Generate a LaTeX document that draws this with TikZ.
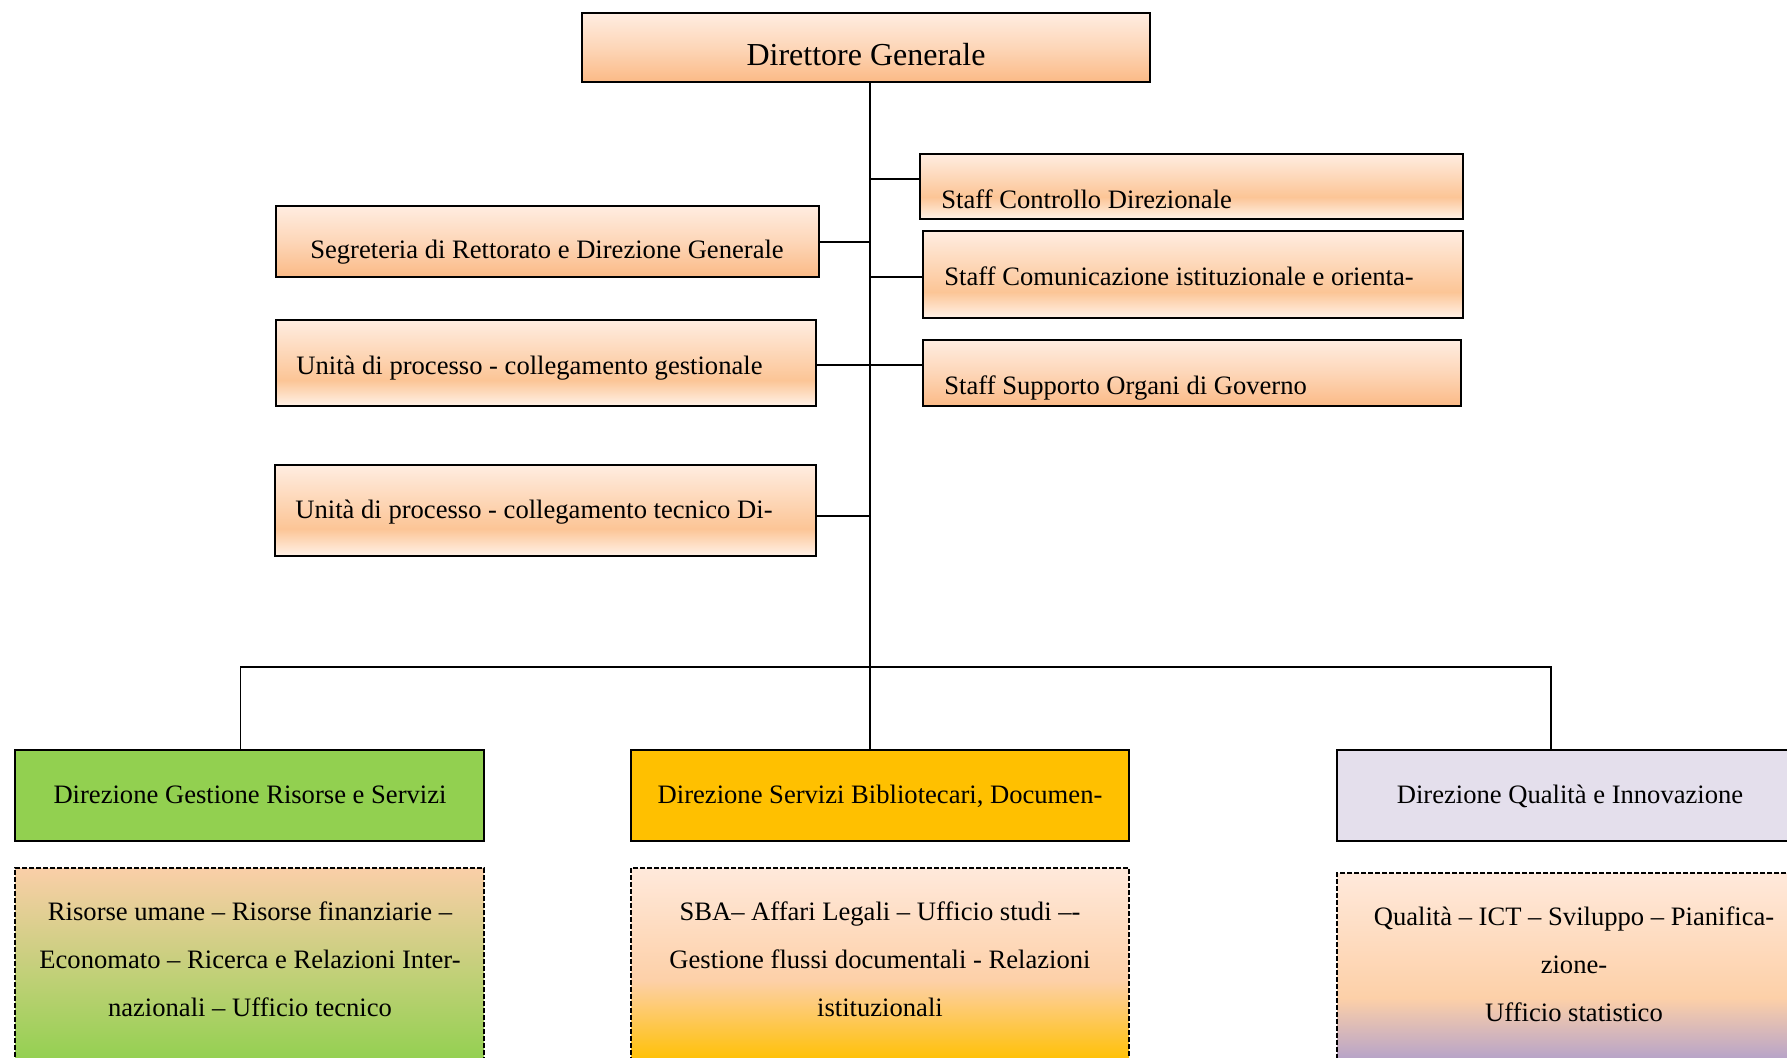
\documentclass[tikz,border=0pt]{standalone}
\usepackage{fontspec}
\setmainfont{Liberation Serif}
\definecolor{oD}{HTML}{FBBA86}
\definecolor{oM}{HTML}{FDD6B8}
\definecolor{oL}{HTML}{FFEDE1}
\definecolor{oB}{HTML}{FFF2E8}
\definecolor{oP}{HTML}{FCC596}
\definecolor{gHead}{HTML}{92D050}
\definecolor{yHead}{HTML}{FFC000}
\definecolor{lHead}{HTML}{E4DFEC}
\definecolor{pk}{HTML}{FACFA8}
\definecolor{pk2}{HTML}{FDD0A8}
\definecolor{pl}{HTML}{FFE9DB}
\definecolor{pu}{HTML}{B3A1CA}
\pgfdeclareverticalshading{orA}{100bp}{color(0bp)=(oD); color(25bp)=(oD); color(50bp)=(oM); color(75bp)=(oL); color(100bp)=(oL)}
\pgfdeclareverticalshading{orB}{100bp}{color(0bp)=(oB); color(25bp)=(oB); color(40bp)=(oP); color(75bp)=(oL); color(100bp)=(oL)}
\pgfdeclareverticalshading{orC}{100bp}{color(0bp)=(oB); color(25bp)=(oB); color(42bp)=(oP); color(75bp)=(oL); color(100bp)=(oL)}
\pgfdeclareverticalshading{grD}{100bp}{color(0bp)=(gHead); color(25bp)=(gHead); color(75bp)=(pk); color(100bp)=(pk)}
\pgfdeclareverticalshading{goD}{100bp}{color(0bp)=(yHead); color(25bp)=(yHead); color(46bp)=(pk2); color(75bp)=(pl); color(100bp)=(pl)}
\pgfdeclareverticalshading{puD}{100bp}{color(0bp)=(pu); color(25bp)=(pu); color(42bp)=(pk2); color(75bp)=(pl); color(100bp)=(pl)}
\begin{document}
\begin{tikzpicture}[x=0.5pt,y=-0.5pt,
  box/.style={draw=black, line width=0.7pt, rectangle, inner sep=0pt},
  dbox/.style={draw=black, line width=0.55pt, dash pattern=on 2.5pt off 1pt, rectangle, inner sep=0pt},
  txt/.style={font=\fontsize{13.3}{16}\selectfont, inner sep=0pt},
  bigtxt/.style={font=\fontsize{16}{19}\selectfont, inner sep=0pt},
  mtxt/.style={font=\fontsize{13.3}{24}\selectfont, inner sep=0pt, align=center},
  conn/.style={line width=0.65pt}]
\useasboundingbox (0,0) rectangle (1787,1058);
\clip (0,0) rectangle (1787,1058);
% top
\node[box, shade, shading=orA, minimum width=284pt, minimum height=34.5pt] (dg) at (866,47.5) {};
\node[bigtxt, anchor=base] (tdg) at (866,65.5) {Direttore Generale};
% staff right
\node[box, shade, shading=orC, minimum width=271.5pt, minimum height=32.5pt] (sc) at (1191.5,186.5) {};
\node[txt, anchor=base west] (tsc) at (941,208.5) {Staff Controllo Direzionale};
\node[box, shade, shading=orB, minimum width=270pt, minimum height=43.5pt] (com) at (1193,274.5) {};
\node[txt, anchor=base west] (tcom) at (944,285.5) {Staff Comunicazione istituzionale e orienta-};
\node[box, shade, shading=orA, minimum width=269pt, minimum height=33pt] (ss) at (1192,373) {};
\node[txt, anchor=base west] (tss) at (944,394.5) {Staff Supporto Organi di Governo};
% left
\node[box, shade, shading=orA, minimum width=271.5pt, minimum height=35.5pt] (seg) at (547.5,241.5) {};
\node[txt, anchor=base] (tseg) at (547,258.5) {Segreteria di Rettorato e Direzione Generale};
\node[box, shade, shading=orB, minimum width=270pt, minimum height=43pt] (ug) at (546,363) {};
\node[txt, anchor=base west] (tug) at (296,374.5) {Unità di processo - collegamento gestionale};
\node[box, shade, shading=orB, minimum width=270.5pt, minimum height=45.5pt] (ut) at (545.5,510.5) {};
\node[txt, anchor=base west] (tut) at (295,518.5) {Unità di processo - collegamento tecnico Di-};
% bottom headers
\node[box, fill=gHead, minimum width=234.5pt, minimum height=45.5pt] (gh) at (249.5,795.5) {};
\node[txt, anchor=base] (tgh) at (250,803) {Direzione Gestione Risorse e Servizi};
\node[box, fill=yHead, minimum width=249pt, minimum height=45.5pt] (oh) at (880,795.5) {};
\node[txt, anchor=base] (toh) at (880,803) {Direzione Servizi Bibliotecari, Documen-};
\node[box, fill=lHead, minimum width=233pt, minimum height=45.5pt] (lh) at (1570,795.5) {};
\node[txt, anchor=base] (tlh) at (1570,803) {Direzione Qualità e Innovazione};
% dashed boxes
\node[dbox, shade, shading=grD, minimum width=234.5pt, minimum height=97pt] (gd) at (249.5,965) {};
\node[mtxt] (tgd) at (250,959) {\strut Risorse umane – Risorse finanziarie –\\\strut Economato – Ricerca e Relazioni Inter-\\\strut nazionali – Ufficio tecnico};
\node[dbox, shade, shading=goD, minimum width=249pt, minimum height=97pt] (od) at (880,965) {};
\node[mtxt] (tod) at (880,959) {\strut SBA– Affari Legali – Ufficio studi –-\\\strut Gestione flussi documentali - Relazioni\\\strut istituzionali};
\node[dbox, shade, shading=puD, minimum width=233pt, minimum height=94.5pt] (ld) at (1570,967.5) {};
\node[mtxt] (tld) at (1574,964) {\strut Qualità – ICT – Sviluppo – Pianifica-\\\strut zione-\\\strut Ufficio statistico};
% connectors
\coordinate (tr) at (870,0);
\coordinate (j1) at (870,179);
\coordinate (j2) at (870,242);
\coordinate (j3) at (870,277);
\coordinate (j4) at (870,365);
\coordinate (j5) at (870,516);
\coordinate (bl) at (240.5,667);
\coordinate (br) at (1551,667);
\draw[conn] (dg.south -| tr) -- (oh.north -| tr);
\draw[conn] (j1) -- (j1 -| sc.west);
\draw[conn] (j2) -- (j2 -| seg.east);
\draw[conn] (j3) -- (j3 -| com.west);
\draw[conn] (j4 -| ug.east) -- (j4 -| ss.west);
\draw[conn] (j5) -- (j5 -| ut.east);
\draw[conn] (bl |- gh.north) -- (bl) -- (br) -- (br |- lh.north);
\end{tikzpicture}
\end{document}
